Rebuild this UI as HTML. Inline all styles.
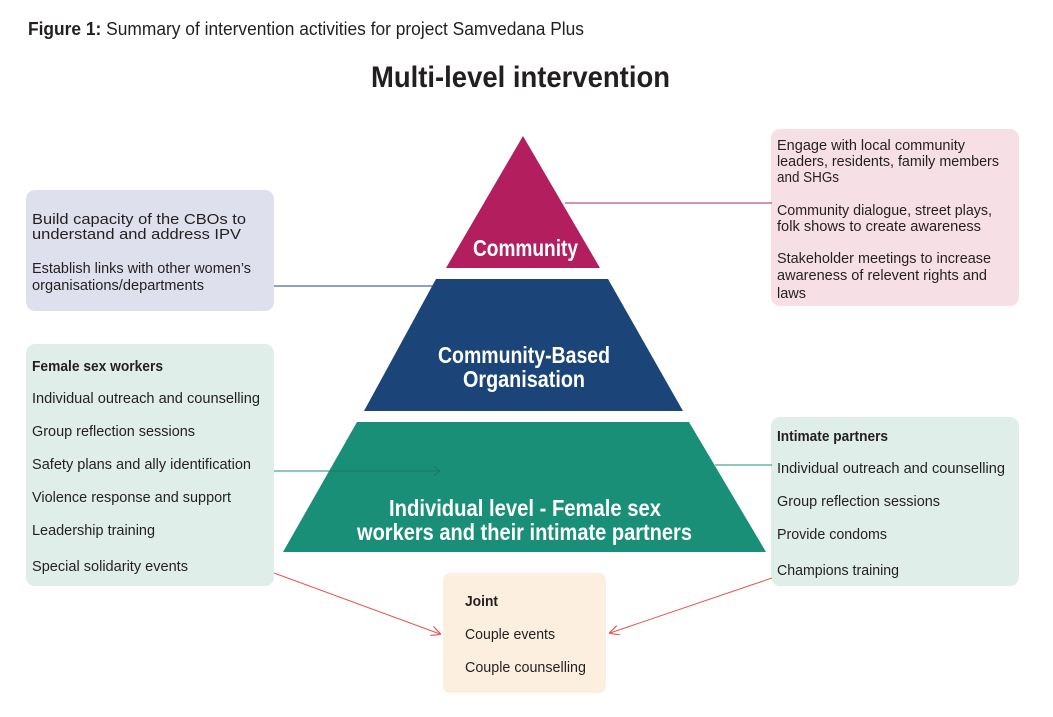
<!DOCTYPE html>
<html><head><meta charset="utf-8"><style>
html,body{margin:0;padding:0;background:#fff;}
svg{display:block;}
text{font-family:"Liberation Sans",sans-serif;}
.t{font-size:15px;fill:#231f20;}
.b{font-weight:bold;}
.w{fill:#fff;font-weight:bold;}
</style></head><body>
<svg width="1053" height="717" viewBox="0 0 1053 717" xmlns="http://www.w3.org/2000/svg">
<defs>
<marker id="ar" viewBox="0 0 10 10" refX="9" refY="5" markerWidth="10" markerHeight="10" orient="auto" markerUnits="userSpaceOnUse">
<path d="M0,0 L10,5 L0,10" fill="none" stroke="#e8574f" stroke-width="1.2"/></marker>
</defs>
<text x="28" y="35" font-size="18" fill="#231f20" textLength="556" lengthAdjust="spacingAndGlyphs"><tspan font-weight="bold">Figure 1:</tspan> Summary of intervention activities for project Samvedana Plus</text>
<text x="371" y="87" font-size="30" font-weight="bold" fill="#231f20" textLength="299" lengthAdjust="spacingAndGlyphs">Multi-level intervention</text>

<rect x="26" y="190" width="248" height="121" rx="9" fill="#dfe0ee"/>
<rect x="771" y="129" width="248" height="177" rx="9" fill="#f7e0e5"/>
<rect x="26" y="344" width="248" height="242" rx="9" fill="#e0eeea"/>
<rect x="771" y="417" width="248" height="169" rx="9" fill="#e0eeea"/>
<rect x="443" y="573" width="163" height="120" rx="7" fill="#fdefe0"/>

<line x1="565" y1="203" x2="772" y2="203" stroke="#b31f5e" stroke-width="1"/>
<line x1="274" y1="286" x2="436" y2="286" stroke="#1b4479" stroke-width="1"/>
<line x1="715" y1="465" x2="772" y2="465" stroke="#1a8f78" stroke-width="1"/>
<line x1="274" y1="471" x2="330" y2="471" stroke="#1a8f78" stroke-width="1"/>

<polygon points="523,136 600,268 446,268" fill="#b31f5e"/>
<polygon points="436,279 608,279 683,411 364,411" fill="#1b4479"/>
<polygon points="357,422 689,422 766,552 283,552" fill="#1a8f78"/>
<line x1="330" y1="471" x2="440" y2="471" stroke="#157865" stroke-width="1"/>
<path d="M433,466 L440,471 L433,476" fill="none" stroke="#157865" stroke-width="1"/>

<line x1="274" y1="573" x2="440" y2="634" stroke="#e8574f" stroke-width="1" marker-end="url(#ar)"/>
<line x1="772" y1="578" x2="610" y2="633" stroke="#e8574f" stroke-width="1" marker-end="url(#ar)"/>

<text class="w" x="473" y="256" font-size="23" textLength="105" lengthAdjust="spacingAndGlyphs">Community</text>
<text class="w" x="438" y="363" font-size="23" textLength="172" lengthAdjust="spacingAndGlyphs">Community-Based</text>
<text class="w" x="463" y="387" font-size="23" textLength="122" lengthAdjust="spacingAndGlyphs">Organisation</text>
<text class="w" x="389" y="516" font-size="23" textLength="272" lengthAdjust="spacingAndGlyphs">Individual level - Female sex</text>
<text class="w" x="357" y="540" font-size="23" textLength="335" lengthAdjust="spacingAndGlyphs">workers and their intimate partners</text>

<text class="t" x="32" y="224" textLength="214" lengthAdjust="spacingAndGlyphs">Build capacity of the CBOs to</text>
<text class="t" x="32" y="239" textLength="209" lengthAdjust="spacingAndGlyphs">understand and address IPV</text>
<text class="t" x="32" y="273" textLength="219" lengthAdjust="spacingAndGlyphs">Establish links with other women’s</text>
<text class="t" x="32" y="290" textLength="172" lengthAdjust="spacingAndGlyphs">organisations/departments</text>

<text class="t" x="777" y="150" textLength="188" lengthAdjust="spacingAndGlyphs">Engage with local community</text>
<text class="t" x="777" y="166" textLength="222" lengthAdjust="spacingAndGlyphs">leaders, residents, family members</text>
<text class="t" x="777" y="182" textLength="62" lengthAdjust="spacingAndGlyphs">and SHGs</text>
<text class="t" x="777" y="215" textLength="215" lengthAdjust="spacingAndGlyphs">Community dialogue, street plays,</text>
<text class="t" x="777" y="231" textLength="204" lengthAdjust="spacingAndGlyphs">folk shows to create awareness</text>
<text class="t" x="777" y="263" textLength="214" lengthAdjust="spacingAndGlyphs">Stakeholder meetings to increase</text>
<text class="t" x="777" y="280" textLength="210" lengthAdjust="spacingAndGlyphs">awareness of relevent rights and</text>
<text class="t" x="777" y="298" textLength="29" lengthAdjust="spacingAndGlyphs">laws</text>

<text class="t b" x="32" y="371" textLength="131" lengthAdjust="spacingAndGlyphs">Female sex workers</text>
<text class="t" x="32" y="403" textLength="228" lengthAdjust="spacingAndGlyphs">Individual outreach and counselling</text>
<text class="t" x="32" y="436" textLength="163" lengthAdjust="spacingAndGlyphs">Group reflection sessions</text>
<text class="t" x="32" y="469" textLength="219" lengthAdjust="spacingAndGlyphs">Safety plans and ally identification</text>
<text class="t" x="32" y="502" textLength="199" lengthAdjust="spacingAndGlyphs">Violence response and support</text>
<text class="t" x="32" y="535" textLength="123" lengthAdjust="spacingAndGlyphs">Leadership training</text>
<text class="t" x="32" y="571" textLength="156" lengthAdjust="spacingAndGlyphs">Special solidarity events</text>

<text class="t b" x="777" y="441" textLength="111" lengthAdjust="spacingAndGlyphs">Intimate partners</text>
<text class="t" x="777" y="473" textLength="228" lengthAdjust="spacingAndGlyphs">Individual outreach and counselling</text>
<text class="t" x="777" y="506" textLength="163" lengthAdjust="spacingAndGlyphs">Group reflection sessions</text>
<text class="t" x="777" y="539" textLength="110" lengthAdjust="spacingAndGlyphs">Provide condoms</text>
<text class="t" x="777" y="575" textLength="122" lengthAdjust="spacingAndGlyphs">Champions training</text>

<text class="t b" x="465" y="606" textLength="33" lengthAdjust="spacingAndGlyphs">Joint</text>
<text class="t" x="465" y="639" textLength="90" lengthAdjust="spacingAndGlyphs">Couple events</text>
<text class="t" x="465" y="672" textLength="121" lengthAdjust="spacingAndGlyphs">Couple counselling</text>
</svg>
</body></html>
